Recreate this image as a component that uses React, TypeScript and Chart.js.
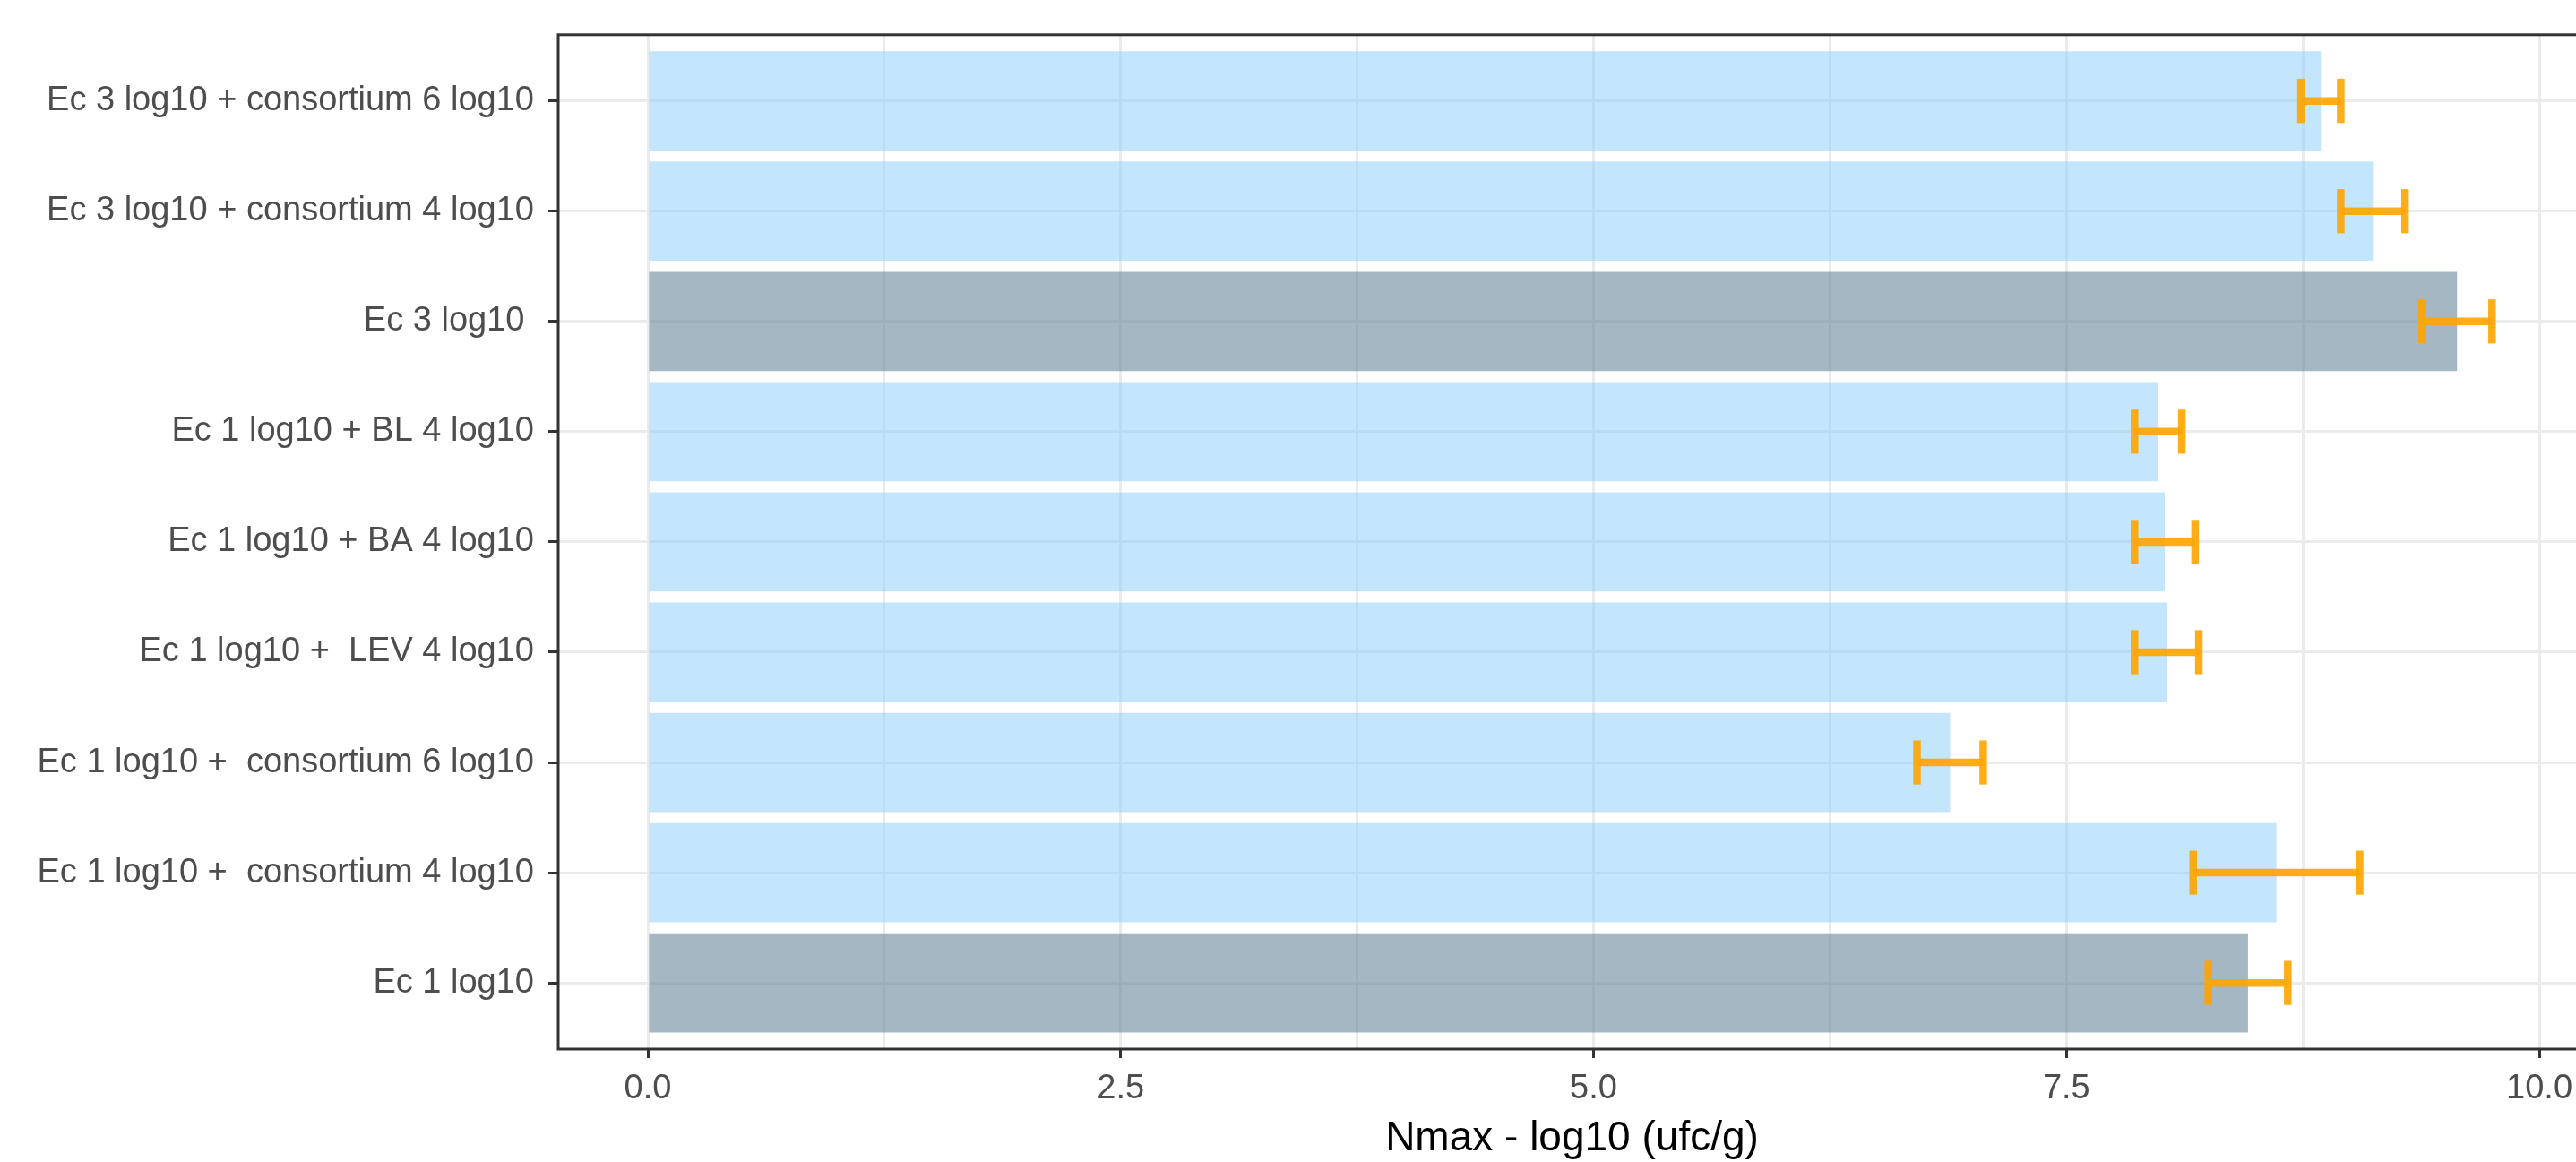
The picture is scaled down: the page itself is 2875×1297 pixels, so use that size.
import React, { useEffect, useRef } from 'react';
import { Chart, registerables } from 'chart.js';

Chart.register(...registerables);

// ---- data (top to bottom as shown) ----
const categories: string[] = [
  'Ec 3 log10 + consortium 6 log10',
  'Ec 3 log10 + consortium 4 log10',
  'Ec 3 log10 ',
  'Ec 1 log10 + BL 4 log10',
  'Ec 1 log10 + BA 4 log10',
  'Ec 1 log10 +  LEV 4 log10',
  'Ec 1 log10 +  consortium 6 log10',
  'Ec 1 log10 +  consortium 4 log10',
  'Ec 1 log10',
];
const nmaxMean: number[] = [8.845, 9.12, 9.565, 7.985, 8.02, 8.03, 6.885, 8.61, 8.46];
const nmaxSd: number[] = [0.105, 0.17, 0.185, 0.125, 0.16, 0.17, 0.175, 0.44, 0.21];
const groups: string[] = ['mix', 'mix', 'control', 'mix', 'mix', 'mix', 'mix', 'mix', 'control'];
const xMajorTicks: number[] = [0, 2.5, 5, 7.5, 10];
const xMinorTicks: number[] = [1.25, 3.75, 6.25, 8.75];
const xTickLabels: string[] = ['0.0', '2.5', '5.0', '7.5', '10.0'];
const xLimits: number[] = [-0.4737, 10.246];
const yLimits: number[] = [-0.6, 8.6];
const xTitle = 'Nmax - log10 (ufc/g)';

const BLUE = 'rgba(135,206,250,0.5)';
const GREY = 'rgba(112,138,160,0.62)';
const ORANGE = 'rgba(255,165,0,0.9)';
const FONT = "'Liberation Sans', Arial, Helvetica, sans-serif";
const ERR_CAP = 0.4;

const errorBarPlugin = {
  id: 'errorBars',
  afterDatasetsDraw(chart: any) {
    const { ctx, scales } = chart;
    const x = scales.x;
    const y = scales.y;
    ctx.save();
    ctx.strokeStyle = ORANGE;
    ctx.lineWidth = 8.5;
    ctx.lineCap = 'butt';
    nmaxMean.forEach((m, i) => {
      const cy = y.getPixelForValue(i);
      const half = Math.abs(y.getPixelForValue(i + ERR_CAP / 2) - cy);
      const x1 = x.getPixelForValue(m - nmaxSd[i]);
      const x2 = x.getPixelForValue(m + nmaxSd[i]);
      ctx.beginPath();
      ctx.moveTo(x1, cy);
      ctx.lineTo(x2, cy);
      ctx.stroke();
      ctx.beginPath();
      ctx.moveTo(x1, cy - half);
      ctx.lineTo(x1, cy + half);
      ctx.stroke();
      ctx.beginPath();
      ctx.moveTo(x2, cy - half);
      ctx.lineTo(x2, cy + half);
      ctx.stroke();
    });
    ctx.restore();
  },
};

const panelBorderPlugin = {
  id: 'panelBorder',
  afterDraw(chart: any) {
    const { ctx, chartArea } = chart;
    ctx.save();
    ctx.strokeStyle = '#333333';
    ctx.lineWidth = 3;
    ctx.strokeRect(chartArea.left, chartArea.top, chartArea.right - chartArea.left, chartArea.bottom - chartArea.top);
    ctx.restore();
  },
};

export default function App() {
  const canvasRef = useRef<HTMLCanvasElement | null>(null);

  useEffect(() => {
    const canvas = canvasRef.current;
    if (!canvas) return;
    const allXTicks = [...xMajorTicks, ...xMinorTicks].sort((a, b) => a - b);
    const chart = new Chart(canvas, {
      type: 'bar',
      data: {
        datasets: [
          {
            data: nmaxMean.map((v, i) => ({ x: v, y: i })) as any,
            backgroundColor: groups.map((g) => (g === 'control' ? GREY : BLUE)),
            borderWidth: 0,
            barPercentage: 0.9,
            categoryPercentage: 1,
          },
        ],
      },
      options: {
        indexAxis: 'y',
        responsive: false,
        animation: false,
        devicePixelRatio: 1,
        layout: { padding: { top: 34, left: 0, right: 14, bottom: 0 } },
        plugins: {
          legend: { display: false },
          tooltip: { enabled: false },
          title: { display: false },
        },
        scales: {
          x: {
            type: 'linear',
            min: xLimits[0],
            max: xLimits[1],
            afterBuildTicks: (axis: any) => {
              axis.ticks = allXTicks.map((v) => ({ value: v }));
            },
            afterFit: (axis: any) => {
              axis.height = 126;
            },
            border: { display: false },
            grid: {
              offset: false,
              color: '#EBEBEB',
              lineWidth: 3,
              drawTicks: true,
              tickLength: 10,
              tickWidth: 3,
              tickColor: (ctx: any) =>
                ctx.tick && xMajorTicks.includes(ctx.tick.value) ? '#333333' : 'rgba(0,0,0,0)',
            },
            ticks: {
              autoSkip: false,
              maxRotation: 0,
              minRotation: 0,
              padding: 12,
              color: '#4D4D4D',
              font: { family: FONT, size: 38 },
              callback: (value: any) => {
                const i = xMajorTicks.indexOf(Number(value));
                return i >= 0 ? xTickLabels[i] : '';
              },
            },
            title: {
              display: true,
              text: xTitle,
              color: '#000000',
              font: { family: FONT, size: 46, lineHeight: 1 },
              padding: { top: 0, bottom: 3 },
            },
          },
          y: {
            type: 'linear',
            min: yLimits[0],
            max: yLimits[1],
            reverse: true,
            offset: false,
            afterBuildTicks: (axis: any) => {
              axis.ticks = categories.map((_, i) => ({ value: i }));
            },
            afterFit: (axis: any) => {
              axis.width = 623;
            },
            border: { display: false },
            grid: {
              offset: false,
              color: '#EBEBEB',
              lineWidth: 3,
              drawTicks: true,
              tickLength: 11,
              tickWidth: 3,
              tickColor: '#333333',
            },
            ticks: {
              autoSkip: false,
              padding: 16,
              color: '#4D4D4D',
              font: { family: FONT, size: 38 },
              callback: (value: any) => {
                const v = Number(value);
                return Number.isInteger(v) && categories[v] !== undefined ? categories[v] : '';
              },
            },
          },
        },
      } as any,
      plugins: [errorBarPlugin, panelBorderPlugin],
    });
    return () => {
      chart.destroy();
    };
  }, []);

  return (
    <div
      style={{
        position: 'fixed',
        left: 0,
        top: 0,
        width: '100vw',
        height: '100vh',
        overflow: 'hidden',
        background: '#ffffff',
      }}
    >
      <canvas
        ref={canvasRef}
        width={2900}
        height={1297}
        style={{ position: 'absolute', left: 0, top: 0, width: 2900, height: 1297, display: 'block' }}
      />
    </div>
  );
}
